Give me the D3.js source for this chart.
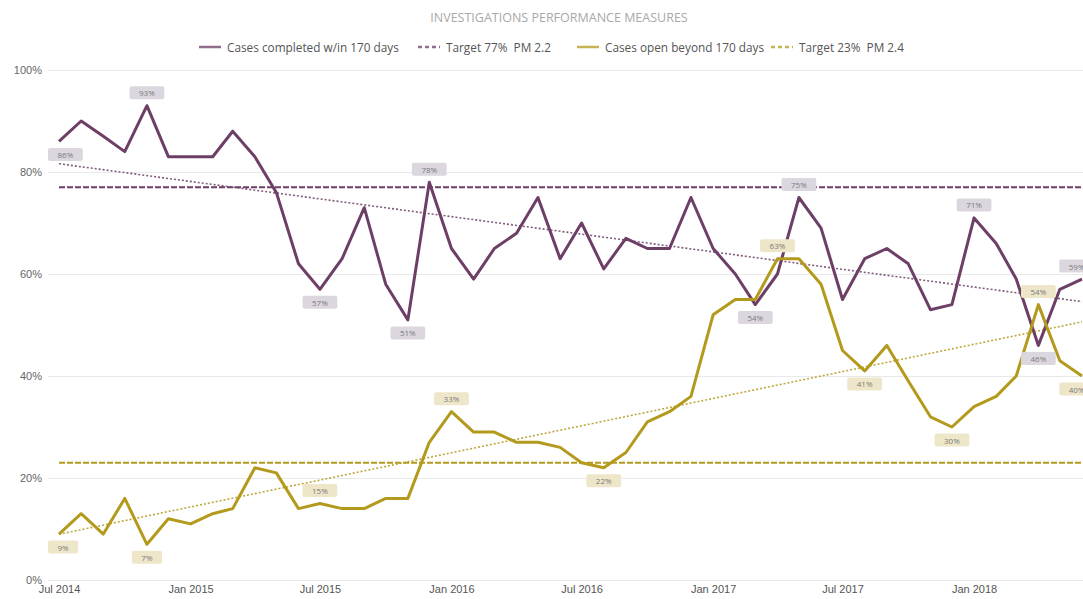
<!DOCTYPE html>
<html>
<head>
<meta charset="utf-8">
<script src="https://cdn.jsdelivr.net/npm/d3@7/dist/d3.min.js"></script>
<style>
  html, body { margin: 0; padding: 0; background: #fff; overflow: hidden; }
  svg { display: block; font-family: "Open Sans", "Noto Sans", sans-serif; }
</style>
</head>
<body>
<svg id="chart" width="1083" height="599"></svg>
<script>
// ---------- DATA ----------
const startMonth = "2014-07";
const completedWithin170 = [86, 90, 87, 84, 93, 83, 83, 83, 88, 83, 76, 62,
  57, 63, 73, 58, 51, 78, 65, 59, 65, 68, 75, 63,
  70, 61, 67, 65, 65, 75, 65, 60, 54, 60, 75, 69,
  55, 63, 65, 62, 53, 54, 71, 66, 59, 46, 57, 59];
const openBeyond170 = [9, 13, 9, 16, 7, 12, 11, 13, 14, 22, 21, 14,
  15, 14, 14, 16, 16, 27, 33, 29, 29, 27, 27, 26,
  23, 22, 25, 31, 33, 36, 52, 55, 55, 63, 63, 58,
  45, 41, 46, 39, 32, 30, 34, 36, 40, 54, 43, 40];
const targetCompleted = 77;
const targetOpen = 23;
const yTicks = [0, 20, 40, 60, 80, 100];
const xTickLabels = ["Jul 2014", "Jan 2015", "Jul 2015", "Jan 2016", "Jul 2016", "Jan 2017", "Jul 2017", "Jan 2018"];
const completedLabelIdx = [0, 4, 12, 16, 17, 32, 34, 42, 45, 47];
const openLabelIdx = [0, 4, 12, 18, 25, 33, 37, 41, 45, 47];
const seriesNames = ["Cases completed w/in 170 days", "Target 77%  PM 2.2", "Cases open beyond 170 days", "Target 23%  PM 2.4"];
const chartTitle = "INVESTIGATIONS PERFORMANCE MEASURES";

// ---------- LAYOUT / STYLE ----------
const completedLabelSide = [1, -1, 1, 1, -1, 1, -1, -1, 1, -1];   // 1 below, -1 above
const openLabelSide = [1, 1, -1, -1, 1, -1, 1, 1, -1, 1];
const purple = "#6d3f66";
const gold = "#b39a1d";
const purpleBox = "#dcd7de";
const goldBox = "#eee6c9";

const svg = d3.select("#chart");
const parse = d3.timeParse("%Y-%m");
const d0 = parse(startMonth);
const dates = completedWithin170.map((_, i) => d3.timeMonth.offset(d0, i));

const x = d3.scaleTime().domain([dates[0], dates[dates.length - 1]]).range([59, 1082]);
const y = d3.scaleLinear().domain([0, 100]).range([580, 70]);
const gridLeft = 48, gridRight = 1083;

// gridlines + y labels
const yAxis = d3.axisLeft(y).tickValues(yTicks).tickFormat(d => d + "%").tickSize(-(gridRight - gridLeft)).tickPadding(6);
const gy = svg.append("g").attr("transform", `translate(${gridLeft},0)`).call(yAxis);
gy.select(".domain").remove();
gy.selectAll(".tick line").attr("stroke", "#e9e9e9").attr("stroke-width", 1);
gy.selectAll(".tick text").attr("fill", "#666").attr("font-size", 11).attr("x", -6);

// x axis labels
const xTickDates = xTickLabels.map(s => d3.timeParse("%b %Y")(s));
const xAxis = d3.axisBottom(x).tickValues(xTickDates).tickFormat(d3.timeFormat("%b %Y")).tickSize(0).tickPadding(5);
const gx = svg.append("g").attr("transform", `translate(0,580)`).call(xAxis);
gx.select(".domain").remove();
gx.selectAll(".tick text").attr("fill", "#555").attr("font-size", 11);

// trend lines (least squares)
function trend(vals) {
  const n = vals.length, xs = d3.range(n);
  const mx = d3.mean(xs), my = d3.mean(vals);
  const b = d3.sum(xs, i => (i - mx) * (vals[i] - my)) / d3.sum(xs, i => (i - mx) ** 2);
  const a = my - b * mx;
  return [a, a + b * (n - 1)];
}
const line = d3.line().x((d, i) => x(dates[i])).y(d => y(d));

function drawTrend(vals, color) {
  const [v0, v1] = trend(vals);
  svg.append("line")
    .attr("x1", x(dates[0])).attr("x2", x(dates[dates.length - 1]))
    .attr("y1", y(v0)).attr("y2", y(v1))
    .attr("stroke", color).attr("stroke-width", 1.6).attr("stroke-dasharray", "2,2").attr("opacity", 0.85);
}
function drawTarget(v, color) {
  svg.append("line")
    .attr("x1", x(dates[0])).attr("x2", gridRight)
    .attr("y1", y(v)).attr("y2", y(v))
    .attr("stroke", color).attr("stroke-width", 2).attr("stroke-dasharray", "6,2");
}

drawTrend(completedWithin170, purple);
drawTrend(openBeyond170, gold);
drawTarget(targetCompleted, purple);
drawTarget(targetOpen, gold);

svg.append("path").datum(completedWithin170).attr("d", line)
  .attr("fill", "none").attr("stroke", purple).attr("stroke-width", 3).attr("stroke-linejoin", "round");
svg.append("path").datum(openBeyond170).attr("d", line)
  .attr("fill", "none").attr("stroke", gold).attr("stroke-width", 3).attr("stroke-linejoin", "round");

// data labels
function drawLabels(vals, idxs, sides, boxColor) {
  idxs.forEach((i, k) => {
    const cx0 = x(dates[i]);
    const cy = y(vals[i]) + sides[k] * 13;
    const txt = vals[i] + "%";
    const g = svg.append("g");
    const t = g.append("text").text(txt).attr("font-size", 8).attr("fill", "#7a7a7a")
      .attr("text-anchor", "middle").attr("dominant-baseline", "central");
    const w = t.node().getComputedTextLength() + 19;
    let cx = Math.max(cx0, gridLeft + w / 2);
    cx = Math.min(cx, 1094 - w / 2);
    t.attr("x", cx).attr("y", cy);
    g.insert("rect", "text").attr("x", cx - w / 2).attr("y", cy - 6.5).attr("width", w).attr("height", 13)
      .attr("rx", 2).attr("fill", boxColor);
  });
}
drawLabels(completedWithin170, completedLabelIdx, completedLabelSide, purpleBox);
drawLabels(openBeyond170, openLabelIdx, openLabelSide, goldBox);

// title
svg.append("text").text(chartTitle).attr("x", 559).attr("y", 22)
  .attr("text-anchor", "middle").attr("font-size", 12.5).attr("fill", "#a8a8a8");

// legend
const legendItems = [
  { name: seriesNames[0], color: purple, dash: null, x: 199 },
  { name: seriesNames[1], color: purple, dash: "4,3", x: 418 },
  { name: seriesNames[2], color: gold, dash: null, x: 577 },
  { name: seriesNames[3], color: gold, dash: "4,3", x: 771 }
];
const lg = svg.append("g");
legendItems.forEach(it => {
  lg.append("line").attr("x1", it.x).attr("x2", it.x + 22).attr("y1", 47).attr("y2", 47)
    .attr("stroke", it.color).attr("stroke-width", 2.5).attr("opacity", 0.75)
    .attr("stroke-dasharray", it.dash);
  lg.append("text").text(it.name).attr("x", it.x + 28).attr("y", 47)
    .attr("dominant-baseline", "central").attr("font-size", 11.8).attr("fill", "#555")
    .attr("xml:space", "preserve").style("white-space", "pre");
});
</script>
</body>
</html>
